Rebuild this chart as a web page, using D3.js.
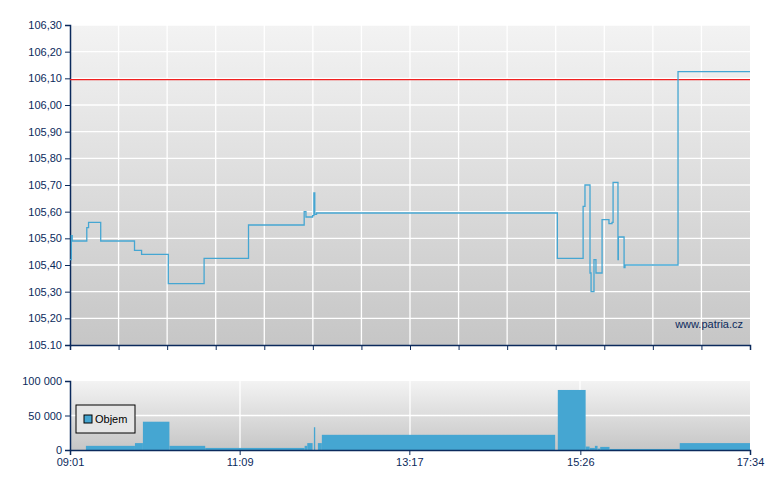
<!DOCTYPE html>
<html><head><meta charset="utf-8">
<script src="https://cdn.jsdelivr.net/npm/d3@7"></script>
<style>body{margin:0;background:#fff}text{font-family:"Liberation Sans",Arial,sans-serif}</style>
</head><body><div id="chart"></div>
<script>
// price steps: time, price
var priceTimes = ["09:01:00","09:02:00","09:02:40","09:13:00","09:13:40","09:15:00","09:24:00","09:24:10","09:49:00","09:49:40","09:55:00","10:15:00","10:15:10","10:42:00","10:42:10","11:15:00","11:15:40","11:57:00","11:57:40","11:59:00","12:04:00","12:05:00","12:05:40","12:07:00","15:08:00","15:08:40","15:27:00","15:28:06","15:29:30","15:32:36","15:33:18","15:34:06","15:35:36","15:36:18","15:37:48","15:40:48","15:42:24","15:46:54","15:47:36","15:49:54","15:50:42","15:53:42","15:54:24","15:54:40","15:58:12","15:59:00","15:59:42","16:38:12","16:39:42","17:34:00"];
var priceValues = [105.42,105.51,105.49,105.49,105.54,105.56,105.56,105.49,105.49,105.455,105.44,105.44,105.33,105.33,105.425,105.425,105.55,105.55,105.60,105.58,105.585,105.67,105.59,105.595,105.595,105.425,105.425,105.62,105.70,105.70,105.37,105.30,105.30,105.42,105.37,105.37,105.57,105.57,105.555,105.56,105.71,105.71,105.42,105.505,105.505,105.39,105.40,105.40,106.125,106.125];
var refPrice = 106.095;
// volume segments
var volStart = ["09:13","09:50","09:56","10:16","10:43","11:58","12:00","12:05","12:08","12:11","15:09","15:30","15:33","15:37","15:39","15:41","15:48","16:41"];
var volEnd   = ["09:50","09:56","10:16","10:43","11:58","12:00","12:04","12:06","12:11","15:07","15:30","15:33","15:37","15:39","15:41","15:48","16:41","17:34"];
var volValues = [6000,10000,41000,6000,3000,6000,10000,33000,10000,22000,87000,5000,3000,6000,2000,4500,1500,10000];
var priceTicks = [105.1,105.2,105.3,105.4,105.5,105.6,105.7,105.8,105.9,106.0,106.1,106.2,106.3];
var volTicks = [0,50000,100000];
var timeLabels = ["09:01","11:09","13:17","15:26","17:34"];

var W = 780, H = 490, L = 70, R = 750;
var parse = d3.timeParse("%H:%M:%S"), parseM = d3.timeParse("%H:%M");
var t0 = parseM("09:01"), t1 = parseM("17:34");
var x = d3.scaleTime().domain([t0, t1]).range([L, R]);
var y = d3.scaleLinear().domain([105.1, 106.3]).range([345, 25]);
var yv = d3.scaleLinear().domain([0, 100000]).range([450, 381]);
var navy = "#0b2a5c", blue = "#45a6d2";

var svg = d3.select("#chart").append("svg").attr("width", W).attr("height", H);
var defs = svg.append("defs");
var g1 = defs.append("linearGradient").attr("id", "bg").attr("x1", 0).attr("x2", 0).attr("y1", 0).attr("y2", 1);
g1.append("stop").attr("offset", "0%").attr("stop-color", "#f3f3f3");
g1.append("stop").attr("offset", "100%").attr("stop-color", "#c6c6c6");

function fmt(v) { return d3.format(".2f")(v).replace(".", ","); }

// main panel
svg.append("rect").attr("x", L).attr("y", 25).attr("width", R - L).attr("height", 320).attr("fill", "url(#bg)");
var gridX = d3.range(1, 14).map(function(i) { return new Date(+t0 + (t1 - t0) * i / 14); });
svg.append("g").selectAll("line").data(gridX).enter().append("line")
  .attr("x1", d => x(d)).attr("x2", d => x(d)).attr("y1", 25).attr("y2", 345)
  .attr("stroke", "#fff").attr("stroke-width", 1.3);
svg.append("g").selectAll("line").data(priceTicks.slice(1)).enter().append("line")
  .attr("x1", L).attr("x2", R).attr("y1", d => y(d)).attr("y2", d => y(d))
  .attr("stroke", "#fff").attr("stroke-width", 1.3);

var yAxis = svg.append("g").attr("transform", "translate(" + L + ",0)")
  .call(d3.axisLeft(y).tickValues(priceTicks).tickSize(5).tickFormat(d => d === 105.1 ? "105.10" : fmt(d)));
var xAxis = svg.append("g").attr("transform", "translate(0,345)")
  .call(d3.axisBottom(x).tickValues([t0].concat(gridX, [t1])).tickSize(5).tickFormat(""));
[yAxis, xAxis].forEach(function(a) {
  a.select(".domain").attr("stroke", navy).attr("stroke-width", 1.5);
  a.selectAll(".tick line").attr("stroke", navy);
  a.selectAll("text").attr("fill", navy).style("font-size", "11px");
});

svg.append("line").attr("x1", L).attr("x2", R).attr("y1", y(refPrice)).attr("y2", y(refPrice))
  .attr("stroke", "#f02020").attr("stroke-width", 1.2);

var pts = priceTimes.map((t, i) => [parse(t), priceValues[i]]);
svg.append("path").datum(pts)
  .attr("d", d3.line().x(d => x(d[0])).y(d => y(d[1])).curve(d3.curveStepAfter))
  .attr("fill", "none").attr("stroke", blue).attr("stroke-width", 1.3);

svg.append("text").attr("x", 743).attr("y", 328).attr("text-anchor", "end")
  .attr("fill", navy).style("font-size", "11px").text("www.patria.cz");

// volume panel
svg.append("rect").attr("x", L).attr("y", 381).attr("width", R - L).attr("height", 69).attr("fill", "url(#bg)");
var vGridX = d3.range(1, 4).map(i => new Date(+t0 + (t1 - t0) * i / 4));
svg.append("g").selectAll("line").data(vGridX).enter().append("line")
  .attr("x1", d => x(d)).attr("x2", d => x(d)).attr("y1", 381).attr("y2", 450)
  .attr("stroke", "#fff").attr("stroke-width", 1.3);
svg.append("line").attr("x1", L).attr("x2", R).attr("y1", yv(50000)).attr("y2", yv(50000))
  .attr("stroke", "#fff").attr("stroke-width", 1.3);

svg.append("g").selectAll("rect").data(volValues).enter().append("rect")
  .attr("x", (d, i) => x(parseM(volStart[i])))
  .attr("width", (d, i) => Math.max(1, x(parseM(volEnd[i])) - x(parseM(volStart[i]))))
  .attr("y", d => yv(d)).attr("height", d => yv(0) - yv(d))
  .attr("fill", blue);

var vy = svg.append("g").attr("transform", "translate(" + L + ",0)")
  .call(d3.axisLeft(yv).tickValues(volTicks).tickSize(5).tickFormat(d => d3.format(",")(d).replace(/,/g, " ")));
var vx = svg.append("g").attr("transform", "translate(0,450)")
  .call(d3.axisBottom(x).tickValues(timeLabels.map(parseM)).tickSize(5).tickFormat(d3.timeFormat("%H:%M")));
[vy, vx].forEach(function(a) {
  a.select(".domain").attr("stroke", navy).attr("stroke-width", 1.5);
  a.selectAll(".tick line").attr("stroke", navy);
  a.selectAll("text").attr("fill", navy).style("font-size", "11px");
});

var lg = svg.append("g").attr("transform", "translate(76,405)");
lg.append("rect").attr("width", 59).attr("height", 28).attr("fill", "#e6e6e6").attr("stroke", "#000");
lg.append("rect").attr("x", 8).attr("y", 10).attr("width", 8).attr("height", 8).attr("fill", blue).attr("stroke", "#000");
lg.append("text").attr("x", 19).attr("y", 18).attr("fill", "#000").style("font-size", "11px").text("Objem");
</script></body></html>
